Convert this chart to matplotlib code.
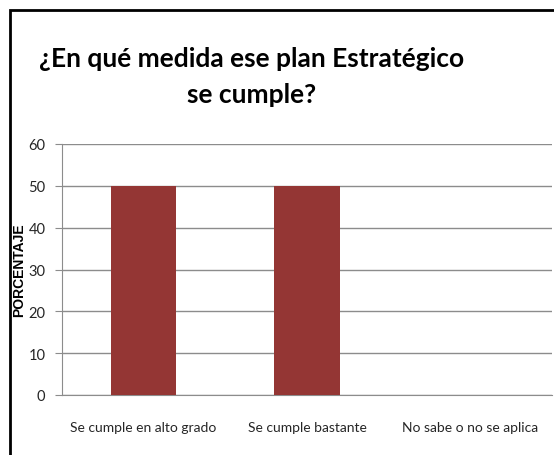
import matplotlib
matplotlib.use("Agg")
import matplotlib.pyplot as plt
from matplotlib.patches import Rectangle

categorias = ["Se cumple en alto grado", "Se cumple bastante", "No sabe o no se aplica"]
porcentajes = [50, 50, 0]
yticks = [0, 10, 20, 30, 40, 50, 60]

W, H = 554, 456
fig = plt.figure(figsize=(W / 100, H / 100), dpi=100)
fig.patch.set_facecolor("white")

# outer frame (right and bottom sides run past the canvas)
fig.patches.append(Rectangle((9.5 / W, -0.05), 1.1, 1 - 10.5 / H + 0.05,
                             transform=fig.transFigure, fill=False,
                             edgecolor="black", linewidth=2))

ax = fig.add_axes([62 / W, 1 - 396 / H, 490 / W, 251 / H])
x = list(range(len(categorias)))
ax.bar(x, porcentajes, width=0.4, color="#943634", zorder=3)
ax.set_xlim(-0.5, 2.5)
ax.set_ylim(0, 60)
ax.set_yticks(yticks)
ax.set_xticks(x)
ax.set_xticklabels(categorias)
ax.yaxis.grid(True, color="#8c8c8c", linewidth=1)
ax.set_axisbelow(True)

for s in ["top", "right"]:
    ax.spines[s].set_visible(False)
for s in ["left", "bottom"]:
    ax.spines[s].set_color("#8c8c8c")
ax.tick_params(axis="y", length=5, color="#8c8c8c", labelsize=10.5,
               labelcolor="#262626", pad=7)
ax.tick_params(axis="x", length=0, labelsize=10, labelcolor="#262626", pad=19)
for lbl in ax.get_xticklabels() + ax.get_yticklabels():
    lbl.set_fontfamily("Lato")

ax.set_ylabel("PORCENTAJE", fontsize=10, fontweight="bold",
              fontfamily="Liberation Sans")
ax.yaxis.set_label_coords(-36 / 490, 0.5)

fig.text(252 / W, 1 - 77 / H, "¿En qué medida ese plan Estratégico\nse cumple?",
         ha="center", va="center", fontsize=19, fontfamily="Lato", fontweight="bold",
         linespacing=1.6)

fig.savefig("out.png", dpi=100)
